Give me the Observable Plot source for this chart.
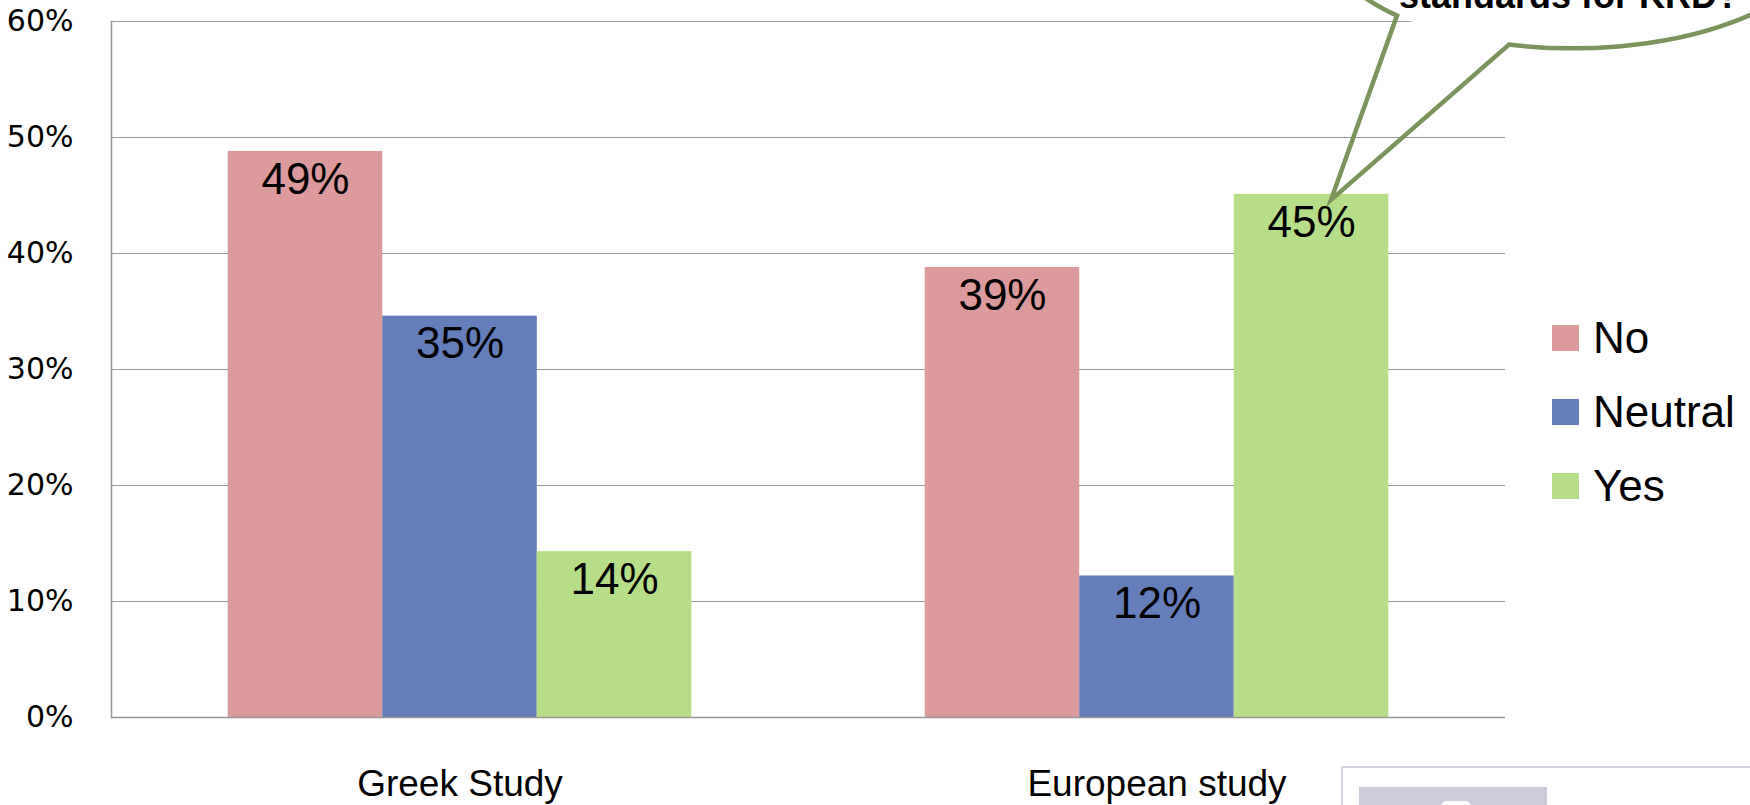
<!DOCTYPE html>
<html>
<head>
<meta charset="utf-8">
<script src="https://cdn.jsdelivr.net/npm/d3@7"></script>
<script src="https://cdn.jsdelivr.net/npm/@observablehq/plot@0.6"></script>
<style>
  html, body { margin: 0; padding: 0; background: #fff; }
  #wrap { position: relative; width: 1750px; height: 805px; overflow: hidden; font-family: "Liberation Sans", Arial, sans-serif; }
  #wrap > svg { display: block; }
  #overlay { position: absolute; left: 0; top: 0; pointer-events: none; }
</style>
</head>
<body>
<div id="wrap"></div>
<script>
// Survey answers per study
const studies = ["Greek Study", "European study"];
const answers = ["No", "Neutral", "Yes"];
const greekValues = [0.488, 0.346, 0.143];
const europeanValues = [0.388, 0.122, 0.451];
const answerColors = ["#db9a9b", "#647eb9", "#b6de88"];
const yTicks = [0, 0.1, 0.2, 0.3, 0.4, 0.5, 0.6];
const calloutText = "standards for KRD?";

const pct = d3.format(".0%");

const rows = [
  ...answers.map((a, i) => ({study: studies[0], answer: a, value: greekValues[i]})),
  ...answers.map((a, i) => ({study: studies[1], answer: a, value: europeanValues[i]}))
];

const W = 1750, H = 805;
const gridColor = "#979797";

const chart = Plot.plot({
  width: W,
  height: H,
  marginLeft: 110,
  marginRight: 245,
  marginTop: 21,
  marginBottom: 88,
  style: {fontFamily: "Liberation Sans, Arial, sans-serif", background: "#fff", color: "#000"},
  fx: {domain: studies, paddingInner: 0, paddingOuter: 0, label: null},
  x: {domain: answers, paddingInner: 0, paddingOuter: 0.755, axis: null, round: false},
  y: {domain: [0, 0.6]},
  color: {domain: answers, range: answerColors},
  marks: [
    Plot.gridY(yTicks, {stroke: gridColor, strokeOpacity: 1}),
    Plot.barY(rows, {fx: "study", x: "answer", y: "value", fill: "answer"}),
    Plot.ruleY([0], {stroke: gridColor, strokeWidth: 1.5}),
    // vertical axis line, on the first facet only
    Plot.frame({anchor: "left", stroke: gridColor, strokeWidth: 1.5, facetAnchor: "left"}),
    Plot.text(rows, {
      fx: "study", x: "answer", y: "value",
      text: d => pct(d.value),
      lineAnchor: "top", dy: 11,
      fontSize: 44, fill: "#000"
    }),
    Plot.axisY(yTicks, {
      tickSize: 0, tickPadding: 38, tickFormat: pct,
      fontSize: 30, fontFamily: "DejaVu Sans", label: null
    }),
    Plot.axisFx({anchor: "bottom", tickSize: 0, tickPadding: 52, fontSize: 37, label: null})
  ]
});

const wrap = document.getElementById("wrap");
wrap.appendChild(chart);

// Annotation layer: legend, speech bubble and the framed picture in the corner
const yScale = chart.scale("y");
const svg = d3.select(wrap).append("svg")
  .attr("id", "overlay")
  .attr("width", W).attr("height", H);

// Legend
const legend = svg.append("g").attr("font-family", "Liberation Sans, Arial, sans-serif");
answers.forEach((a, i) => {
  const top = 325 + i * 74;
  legend.append("rect").attr("x", 1552).attr("y", top).attr("width", 27).attr("height", 26).attr("fill", answerColors[i]);
  legend.append("text").attr("x", 1593).attr("y", top + 28).attr("font-size", 44).attr("fill", "#000").text(a);
});

// Speech bubble pointing at the European "Yes" bar
const green = "#7a945c";
const cx = 1574, cy = -60, rx = 246, ry = 109;
const leftBase = [1397, 15.6];
const rightBase = [1509, 44.6];
const tip = [1331, yScale.apply(europeanValues[2]) + 6];
svg.append("ellipse")
  .attr("cx", cx).attr("cy", cy).attr("rx", rx).attr("ry", ry)
  .attr("fill", "#fff");
svg.append("path")
  .attr("d", `M${rightBase} A${rx},${ry} 0 1 0 ${leftBase} L${tip} Z`)
  .attr("fill", "none").attr("stroke", green).attr("stroke-width", 4.5).attr("stroke-linejoin", "miter");
svg.append("text")
  .attr("x", 1569).attr("y", 8)
  .attr("text-anchor", "middle")
  .attr("font-family", "Liberation Sans, Arial, sans-serif")
  .attr("font-weight", "bold").attr("font-size", 36).attr("fill", "#000")
  .text(calloutText);

// Framed picture, mostly below the visible area
svg.append("rect").attr("x", 1342).attr("y", 767).attr("width", 440).attr("height", 80)
  .attr("fill", "#fff").attr("stroke", "#d4d1df").attr("stroke-width", 2);
svg.append("rect").attr("x", 1359).attr("y", 787).attr("width", 188).attr("height", 40).attr("fill", "#d0cbdc");
svg.append("rect").attr("x", 1441).attr("y", 801).attr("width", 30).attr("height", 14).attr("rx", 6).attr("fill", "#fff");
</script>
</body>
</html>
